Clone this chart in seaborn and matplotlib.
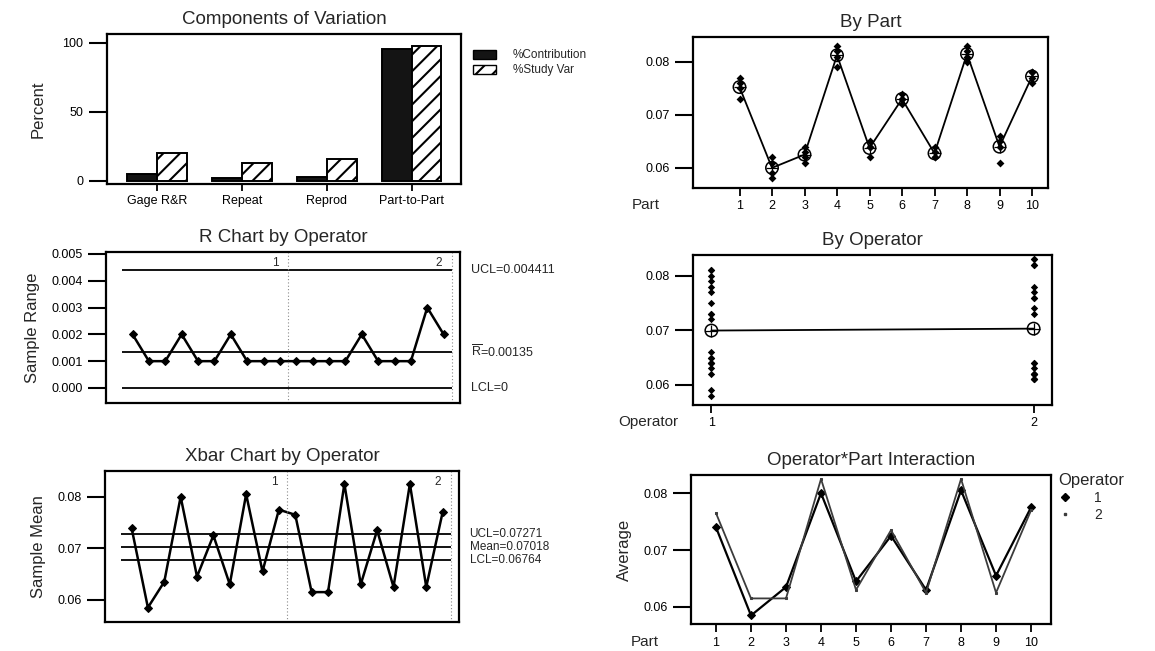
import numpy as np
import pandas as pd
import matplotlib
matplotlib.use("Agg")
import matplotlib.pyplot as plt
import matplotlib.transforms as mtransforms
from matplotlib.patches import Patch
from matplotlib.lines import Line2D
from matplotlib.ticker import FormatStrFormatter
import seaborn as sns

# ---- Components of variation (percent) ----
components = ["Gage R&R", "Repeat", "Reprod", "Part-to-Part"]
pct_contribution = [5.0, 1.8, 3.0, 95.5]
pct_study_var = [20.4, 13.1, 15.6, 97.5]

# ---- Measurements: 10 parts, 2 operators, 2 trials ----
parts = [1, 2, 3, 4, 5, 6, 7, 8, 9, 10]
operators = [1, 2]
op1_trial1 = [0.073, 0.058, 0.063, 0.079, 0.064, 0.072, 0.062, 0.080, 0.065, 0.077]
op1_trial2 = [0.075, 0.059, 0.064, 0.081, 0.065, 0.073, 0.064, 0.081, 0.066, 0.078]
op2_trial1 = [0.076, 0.061, 0.061, 0.082, 0.062, 0.073, 0.062, 0.082, 0.061, 0.076]
op2_trial2 = [0.077, 0.062, 0.062, 0.083, 0.064, 0.074, 0.063, 0.083, 0.064, 0.078]

# ---- Control limits ----
r_ucl, r_bar, r_lcl = 0.004411, 0.00135, 0.0
x_ucl, x_mean, x_lcl = 0.07271, 0.07018, 0.06764

sns.set_theme(style="white")
plt.rcParams["font.family"] = ["Liberation Sans", "DejaVu Sans"]
plt.rcParams.update({
    "axes.edgecolor": "black",
    "axes.linewidth": 1.6,
    "xtick.color": "black",
    "ytick.color": "black",
    "xtick.bottom": True,
    "ytick.left": True,
    "xtick.direction": "out",
    "ytick.direction": "out",
    "hatch.linewidth": 1.5,
    "mathtext.fontset": "custom",
    "mathtext.rm": "Liberation Sans",
    "mathtext.it": "Liberation Sans",
})

# long-format measurement table
rows = []
for op, t1, t2 in [(1, op1_trial1, op1_trial2), (2, op2_trial1, op2_trial2)]:
    for p, a, b in zip(parts, t1, t2):
        rows.append((op, p, 1, a))
        rows.append((op, p, 2, b))
meas = pd.DataFrame(rows, columns=["Operator", "Part", "Trial", "Value"])

# subgroup (operator x part) means and ranges, operator-major order
sub = (meas.groupby(["Operator", "Part"])["Value"]
       .agg(Mean="mean", Range=lambda v: round(v.max() - v.min(), 4))
       .reset_index())
sub["Sample"] = np.arange(1, len(sub) + 1)

W, H = 1155, 651
fig = plt.figure(figsize=(W / 100, H / 100), dpi=100)


def px_axes(left, right, top, bottom):
    return fig.add_axes([left / W, 1 - bottom / H, (right - left) / W, (bottom - top) / H])


TITLE_FS = 13.5
LABEL_FS = 12
TICK_FS = 9


def style_axes(ax, xtick_len=5):
    ax.tick_params(axis="y", length=13, width=1.5, labelsize=TICK_FS, pad=4)
    ax.tick_params(axis="x", length=xtick_len, width=1.3, labelsize=TICK_FS, pad=3)
    for s in ax.spines.values():
        s.set_linewidth(1.6)


# ===================== Components of Variation =====================
ax = px_axes(107, 461, 34, 184)
comp_df = pd.DataFrame({
    "Component": components * 2,
    "Measure": ["%Contribution"] * 4 + ["%Study Var"] * 4,
    "Percent": pct_contribution + pct_study_var,
})
sns.barplot(data=comp_df, x="Component", y="Percent", hue="Measure", order=components,
            palette=["#141414", "white"], saturation=1, width=0.7, edgecolor="black",
            linewidth=1.4, legend=False, ax=ax)
for bar in ax.containers[1]:
    bar.set_hatch("//")
ax.set_xlim(-0.59, 3.58)
ax.set_ylim(-2.2, 106.5)
ax.set_yticks([0, 50, 100])
ax.set_xlabel("")
ax.set_ylabel("Percent", fontsize=LABEL_FS, labelpad=12)
ax.set_title("Components of Variation", fontsize=TITLE_FS, pad=7)
style_axes(ax)
handles = [Patch(facecolor="#141414", edgecolor="black"),
           Patch(facecolor="white", edgecolor="black", hatch="//")]
ax.legend(handles, ["%Contribution", "%Study Var"], loc="upper left",
          bbox_to_anchor=(1.02, 0.93), frameon=False, fontsize=8.5,
          handlelength=2.0, handleheight=0.8, labelspacing=0.25, handletextpad=1.4,
          borderaxespad=0)


def control_chart(ax, ycol, center, ucl, lcl, ylim, yticks, fmt, labels, label_fs):
    sns.lineplot(data=sub, x="Sample", y=ycol, color="black", linewidth=1.8,
                 marker="D", markersize=4, markeredgecolor="black", ax=ax)
    for val in (ucl, center, lcl):
        ax.hlines(val, 0.35, 20.5, color="black", linewidth=1.3)
    for xv in (10.5, 20.5):
        ax.axvline(xv, color="#8a8a8a", linestyle=(0, (1, 2)), linewidth=0.8)
    ax.set_xlim(-0.62, 21.0)
    ax.set_ylim(*ylim)
    ax.set_yticks(yticks)
    ax.yaxis.set_major_formatter(FormatStrFormatter(fmt))
    ax.set_xticks([])
    ax.set_xlabel("")
    trans = mtransforms.blended_transform_factory(ax.transData, ax.transAxes)
    ax.text(9.7, 0.93, "1", transform=trans, fontsize=8.5, ha="center", va="center")
    ax.text(19.7, 0.93, "2", transform=trans, fontsize=8.5, ha="center", va="center")
    rtrans = mtransforms.blended_transform_factory(ax.transAxes, ax.transData)
    for val, txt in zip((ucl, center, lcl), labels):
        ax.text(1.03, val, txt, transform=rtrans, fontsize=label_fs, va="center", ha="left")
    style_axes(ax)


# ===================== R Chart =====================
ax = px_axes(106, 460, 252, 403)
control_chart(ax, "Range", r_bar, r_ucl, r_lcl, (-0.00056, 0.00507),
              [0, 0.001, 0.002, 0.003, 0.004, 0.005], "%.3f",
              [f"UCL={r_ucl:g}", r"$\overline{\mathrm{R}}$" + f"={r_bar:g}", f"LCL={r_lcl:g}"], 9)
ax.set_ylabel("Sample Range", fontsize=LABEL_FS, labelpad=8)
ax.set_title("R Chart by Operator", fontsize=TITLE_FS, pad=7)

# ===================== Xbar Chart =====================
ax = px_axes(105, 459, 471, 622)
control_chart(ax, "Mean", x_mean, x_ucl, x_lcl, (0.0557, 0.0850),
              [0.06, 0.07, 0.08], "%.2f",
              [f"UCL={x_ucl:.5f}", f"Mean={x_mean:.5f}", f"LCL={x_lcl:.5f}"], 8.5)
ax.set_ylabel("Sample Mean", fontsize=LABEL_FS, labelpad=8)
ax.set_title("Xbar Chart by Operator", fontsize=TITLE_FS, pad=7)


def mean_markers(ax, x, y):
    ax.scatter(x, y, s=80, facecolors="none", edgecolors="black", linewidths=1.1, zorder=4)
    ax.scatter(x, y, s=80, marker="+", color="black", linewidths=0.9, zorder=4)


# ===================== By Part =====================
ax = px_axes(693, 1048, 37, 188)
sns.scatterplot(data=meas, x="Part", y="Value", marker="D", s=16, color="black",
                linewidth=0, ax=ax, zorder=3)
part_means = meas.groupby("Part")["Value"].mean().reset_index()
sns.lineplot(data=part_means, x="Part", y="Value", color="black", linewidth=1.3, ax=ax)
mean_markers(ax, part_means["Part"], part_means["Value"])
ax.set_xlim(1 - 46.5 / 32.5, 10 + 16 / 32.5)
ax.set_ylim(0.0562, 0.0847)
ax.set_xticks(parts)
ax.set_yticks([0.06, 0.07, 0.08])
ax.yaxis.set_major_formatter(FormatStrFormatter("%.2f"))
ax.set_xlabel("")
ax.set_ylabel("")
ax.set_title("By Part", fontsize=TITLE_FS, pad=7)
style_axes(ax, xtick_len=6)
ax.text(-0.132, -0.115, "Part", transform=ax.transAxes, fontsize=11, ha="center", va="center")

# ===================== By Operator =====================
ax = px_axes(693, 1052, 255, 405)
sns.scatterplot(data=meas, x="Operator", y="Value", marker="D", s=14, color="black",
                linewidth=0, ax=ax, zorder=3)
op_means = meas.groupby("Operator")["Value"].mean().reset_index()
sns.lineplot(data=op_means, x="Operator", y="Value", color="black", linewidth=1.3, ax=ax)
mean_markers(ax, op_means["Operator"], op_means["Value"])
ax.set_xlim(0.943, 2.057)
ax.set_ylim(0.0563, 0.0838)
ax.set_xticks(operators)
ax.set_yticks([0.06, 0.07, 0.08])
ax.yaxis.set_major_formatter(FormatStrFormatter("%.2f"))
ax.set_xlabel("")
ax.set_ylabel("")
ax.set_title("By Operator", fontsize=TITLE_FS, pad=7)
style_axes(ax, xtick_len=6)
ax.text(-0.125, -0.113, "Operator", transform=ax.transAxes, fontsize=11, ha="center", va="center")

# ===================== Operator*Part Interaction =====================
ax = px_axes(691, 1051, 475, 624)
sns.lineplot(data=meas[meas["Operator"] == 1], x="Part", y="Value", estimator="mean",
             errorbar=None, color="black", linewidth=1.6, marker="D", markersize=4.5,
             markeredgecolor="black", ax=ax)
sns.lineplot(data=meas[meas["Operator"] == 2], x="Part", y="Value", estimator="mean",
             errorbar=None, color="#3c3c3c", linewidth=1.3, marker="s", markersize=2.0,
             markeredgecolor="#3c3c3c", ax=ax)
ax.set_xlim(0.286, 10.57)
ax.set_ylim(0.0570, 0.0832)
ax.set_xticks(parts)
ax.set_yticks([0.06, 0.07, 0.08])
ax.yaxis.set_major_formatter(FormatStrFormatter("%.2f"))
ax.set_xlabel("")
ax.set_ylabel("Average", fontsize=LABEL_FS, labelpad=8)
ax.set_title("Operator*Part Interaction", fontsize=TITLE_FS, pad=7)
style_axes(ax, xtick_len=6)
ax.text(-0.128, -0.121, "Part", transform=ax.transAxes, fontsize=11, ha="center", va="center")
leg_handles = [Line2D([], [], color="none", marker="D", markersize=4.5, markerfacecolor="black",
                      markeredgecolor="black"),
               Line2D([], [], color="none", marker="s", markersize=2.0, markerfacecolor="#3c3c3c",
                      markeredgecolor="#3c3c3c")]
leg = ax.legend(leg_handles, [str(o) for o in operators], title="Operator", loc="upper left",
                bbox_to_anchor=(1.005, 1.05), frameon=False, fontsize=10, title_fontsize=12,
                handlelength=1.0, handletextpad=1.6, labelspacing=0.2, borderaxespad=0)
leg._legend_box.align = "left"

fig.savefig("out.png", dpi=100, facecolor="white")
